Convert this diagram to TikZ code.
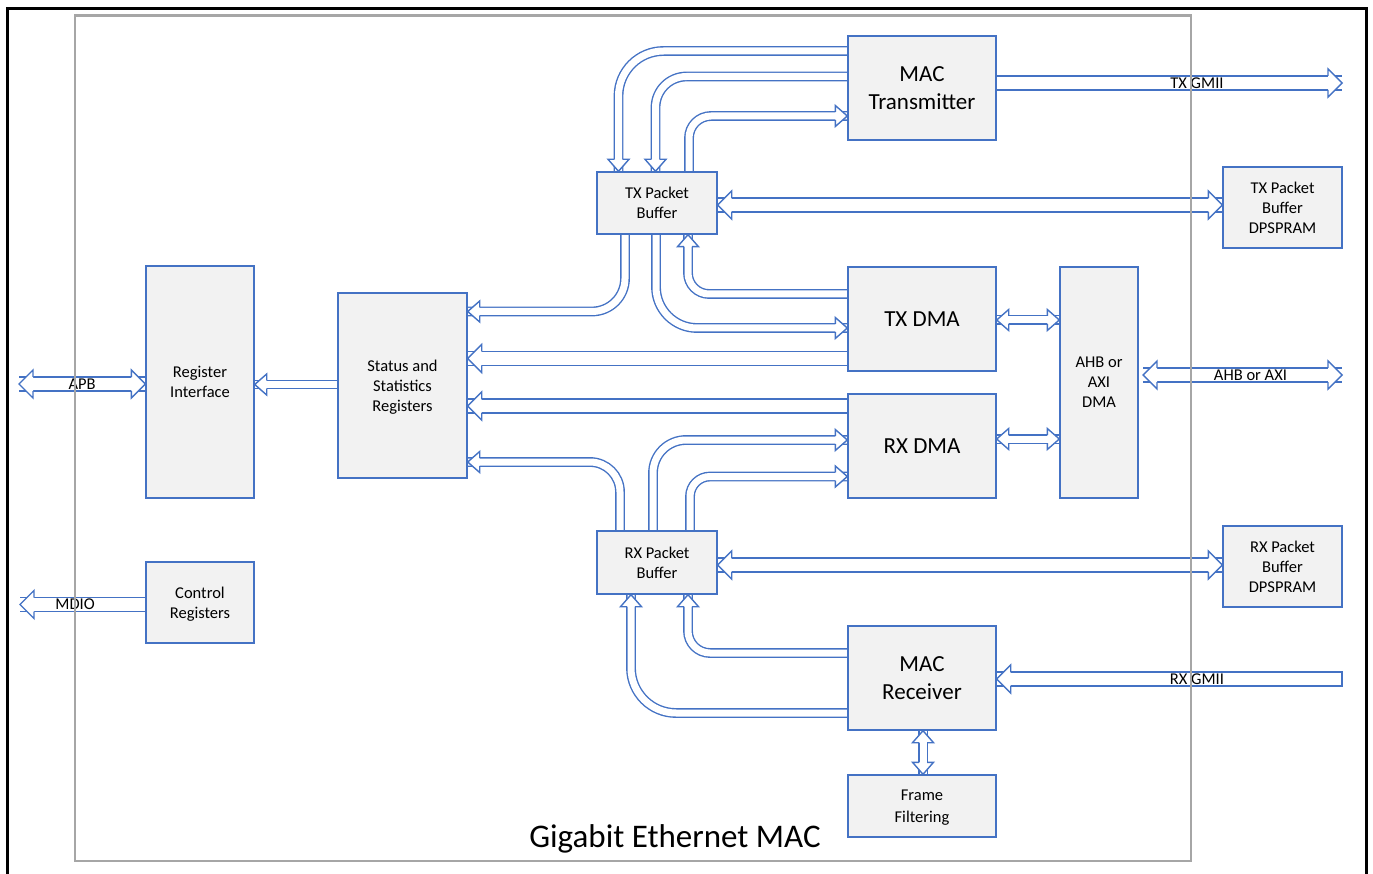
\documentclass[tikz,border=0pt]{standalone}
\usepackage{fontspec}
\setmainfont{Carlito}
\usetikzlibrary{backgrounds}

\definecolor{macblue}{RGB}{68,114,196}
\definecolor{boxgray}{RGB}{242,242,242}
\definecolor{framegray}{RGB}{166,166,166}

\tikzset{
  blk/.style={draw=macblue, line width=1.4pt, fill=boxgray, align=center, inner sep=0pt, text depth=0pt, font=\fontsize{16.5}{20}\selectfont},
  bigblk/.style={blk, minimum width=148pt, minimum height=104pt, font=\fontsize{23}{28}\selectfont},
  bus/.style={draw=macblue, line width=1.4pt, double=white, double distance=12.6pt},
  thinbus/.style={draw=macblue, line width=1.4pt, double=white, double distance=7pt},
  tipshape/.style={draw=macblue, fill=white, line width=1.4pt, line join=miter},
  smallhead/.pic={\filldraw[tipshape] (-12,4.2) -- (-12,10.5) -- (0,0) -- (-12,-10.5) -- (-12,-4.2);},
  bighead/.pic={\filldraw[tipshape] (-14,7) -- (-14,14) -- (0,0) -- (-14,-14) -- (-14,-7);},
  lbl/.style={font=\fontsize{16.5}{20}\selectfont, inner sep=0pt}
}

\begin{document}
\begin{tikzpicture}[x=1pt, y=-1pt]
  \useasboundingbox (0,0) rectangle (1373,874);
  \draw[line width=3pt] (7,890) -- (7,9) -- (1366,9) -- (1366,890);
  \draw[framegray, line width=2.5pt] (75,15.5) rectangle (1191,861);

  % blocks
  \node[bigblk] (mactx) at (922,88) {MAC\\Transmitter};
  \node[blk, minimum width=120pt, minimum height=62pt] (txbuf) at (657,203) {TX Packet\\Buffer};
  \node[blk, minimum width=119pt, minimum height=81pt] (txram) at (1282.5,207.5) {TX Packet\\Buffer\\DPSPRAM};
  \node[bigblk] (txdma) at (922,319) {TX DMA};
  \node[blk, minimum width=78pt, minimum height=231pt] (dma) at (1099,382.5) {AHB or\\AXI\\DMA};
  \node[bigblk] (rxdma) at (922,446) {RX DMA};
  \node[blk, minimum width=108pt, minimum height=232pt] (regif) at (200,382) {Register\\Interface};
  \node[blk, minimum width=129pt, minimum height=185pt] (stats) at (402.5,385.5) {Status and\\Statistics\\Registers};
  \node[blk, minimum width=108pt, minimum height=81pt] (ctrl) at (200,602.5) {Control\\Registers};
  \node[blk, minimum width=120pt, minimum height=63pt] (rxbuf) at (657,562.5) {RX Packet\\Buffer};
  \node[blk, minimum width=119pt, minimum height=81pt] (rxram) at (1282.5,566.5) {RX Packet\\Buffer\\DPSPRAM};
  \node[bigblk] (macrx) at (922,678) {MAC\\Receiver};
  \node[blk, minimum width=148pt, minimum height=62pt, font=\fontsize{16.5}{22}\selectfont] (filt) at (922,806) {Frame\\Filtering};
  \node[anchor=base, inner sep=0pt, font=\fontsize{33}{40}\selectfont] (title) at (675,847) {Gigabit Ethernet MAC};

  % free ends of the outside buses
  \coordinate (txgmii) at (1342,83);
  \coordinate (rxgmii) at (1342,679);
  \coordinate (ahbin) at (1143,375);
  \coordinate (ahbout) at (1342,375);
  \coordinate (apb) at (19,384);
  \coordinate (mdio) at (20,604.5);

  % bus shafts
  \begin{scope}[on background layer]
    \fill[white] (0,0) rectangle (1373,874);
    \draw[thinbus, rounded corners=45pt] (mactx.west |- 0,51) -| (txbuf.north -| 618.5,0);
    \draw[thinbus, rounded corners=31pt] (mactx.west |- 0,76.5) -| (txbuf.north -| 655.5,0);
    \draw[thinbus, rounded corners=22pt] (txbuf.north -| 689,0) |- (mactx.west |- 0,116);
    \draw[thinbus, rounded corners=33pt] (txbuf.south -| 625,0) |- (stats.east |- 0,311.5);
    \draw[thinbus, rounded corners=41pt] (txbuf.south -| 656,0) |- (txdma.west |- 0,328);
    \draw[thinbus, rounded corners=21pt] (txdma.west |- 0,294) -| (txbuf.south -| 688,0);
    \draw[bus] (txdma.west |- 0,358.5) -- (stats.east |- 0,358.5);
    \draw[bus] (rxdma.west |- 0,406) -- (stats.east |- 0,406);
    \draw[thinbus, rounded corners=30pt] (rxbuf.north -| 620,0) |- (stats.east |- 0,462);
    \draw[thinbus, rounded corners=33pt] (rxbuf.north -| 653,0) |- (rxdma.west |- 0,440);
    \draw[thinbus, rounded corners=20pt] (rxbuf.north -| 690,0) |- (rxdma.west |- 0,476.5);
    \draw[thinbus, rounded corners=22pt] (macrx.west |- 0,653) -| (rxbuf.south -| 688,0);
    \draw[thinbus, rounded corners=45pt] (macrx.west |- 0,713) -| (rxbuf.south -| 631,0);
    \draw[bus] (txbuf.east |- 0,205) -- (txram.west |- 0,205);
    \draw[bus] (rxbuf.east |- 0,565) -- (rxram.west |- 0,565);
    \draw[thinbus] (txdma.east |- 0,320) -- (dma.west |- 0,320);
    \draw[thinbus] (rxdma.east |- 0,439) -- (dma.west |- 0,439);
    \draw[thinbus] (stats.west |- 0,384.5) -- (regif.east |- 0,384.5);
    \draw[thinbus] (macrx.south -| 923,0) -- (filt.north -| 923,0);
    \draw[bus] (mactx.east |- txgmii) -- node[lbl, pos=0.58] (txgmiilbl) {TX GMII} (txgmii);
    \draw[bus] (rxgmii) -- node[lbl, pos=0.42] (rxgmiilbl) {RX GMII} (macrx.east |- rxgmii);
    \draw[macblue, line width=1.4pt, line cap=rect] ([yshift=-7pt]rxgmii) -- ([yshift=7pt]rxgmii);
    \draw[bus] (ahbin) -- node[lbl, pos=0.54] (ahblbl) {AHB or AXI} (ahbout);
    \draw[bus] (apb) -- node[lbl, pos=0.5] (apblbl) {APB} (regif.west |- apb);
    \draw[bus] (ctrl.west |- mdio) -- node[lbl, pos=0.56] (mdiolbl) {MDIO} (mdio);
  \end{scope}

  % arrow heads
  \pic[rotate=-90] at (txbuf.north -| 618.5,0) {smallhead};
  \pic[rotate=-90] at (txbuf.north -| 655.5,0) {smallhead};
  \pic at (mactx.west |- 0,116) {smallhead};
  \pic[rotate=180] at (stats.east |- 0,311.5) {smallhead};
  \pic at (txdma.west |- 0,328) {smallhead};
  \pic[rotate=90] at (txbuf.south -| 688,0) {smallhead};
  \pic[rotate=180] at (stats.east |- 0,358.5) {bighead};
  \pic[rotate=180] at (stats.east |- 0,406) {bighead};
  \pic[rotate=180] at (stats.east |- 0,462) {smallhead};
  \pic at (rxdma.west |- 0,440) {smallhead};
  \pic at (rxdma.west |- 0,476.5) {smallhead};
  \pic[rotate=90] at (rxbuf.south -| 688,0) {smallhead};
  \pic[rotate=90] at (rxbuf.south -| 631,0) {smallhead};
  \pic[rotate=180] at (txbuf.east |- 0,205) {bighead};
  \pic at (txram.west |- 0,205) {bighead};
  \pic[rotate=180] at (rxbuf.east |- 0,565) {bighead};
  \pic at (rxram.west |- 0,565) {bighead};
  \pic[rotate=180] at (txdma.east |- 0,320) {smallhead};
  \pic at (dma.west |- 0,320) {smallhead};
  \pic[rotate=180] at (rxdma.east |- 0,439) {smallhead};
  \pic at (dma.west |- 0,439) {smallhead};
  \pic[rotate=180] at (regif.east |- 0,384.5) {smallhead};
  \pic[rotate=90] at (macrx.south -| 923,0) {smallhead};
  \pic[rotate=-90] at (filt.north -| 923,0) {smallhead};
  \pic at (txgmii) {bighead};
  \pic[rotate=180] at (macrx.east |- rxgmii) {bighead};
  \pic[rotate=180] at (ahbin) {bighead};
  \pic at (ahbout) {bighead};
  \pic[rotate=180] at (apb) {bighead};
  \pic at (regif.west |- apb) {bighead};
  \pic[rotate=180] at (mdio) {bighead};
\end{tikzpicture}
\end{document}
